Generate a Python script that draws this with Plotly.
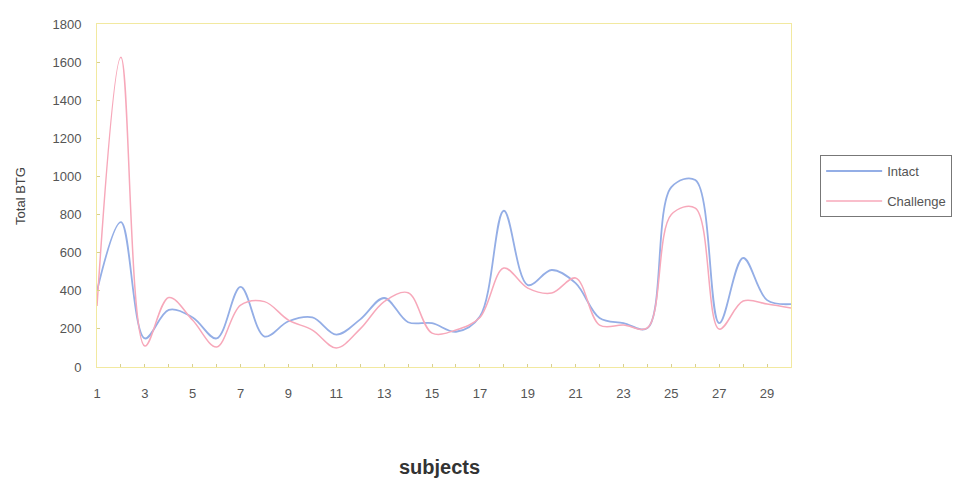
import plotly.graph_objects as go

subjects = list(range(1, 31))
intact = [400, 760, 150, 300, 260, 150, 420, 160, 240, 260,
          170, 250, 362, 235, 230, 185, 265, 820, 430, 509,
          440, 257, 230, 204, 944, 981, 230, 572, 351, 330]
challenge = [320, 1626, 110, 365, 245, 105, 325, 343, 246, 194,
             100, 200, 343, 390, 178, 194, 260, 519, 414, 388,
             467, 220, 220, 205, 800, 834, 199, 346, 331, 310]
x_tick_vals = list(range(1, 31, 2))
y_tick_vals = list(range(0, 1801, 200))

fig = go.Figure()
fig.add_trace(go.Scatter(x=subjects, y=intact, name="Intact", mode="lines", legendgroup="a",
                         line=dict(color="#94aee6", width=1.8, shape="spline", smoothing=1.0)))
fig.add_trace(go.Scatter(x=subjects, y=challenge, name="Challenge", mode="lines", legendgroup="b",
                         line=dict(color="#f7a8ba", width=1.5, shape="spline", smoothing=1.0)))

axis_color = "#f2e9a0"
fig.update_layout(
    width=980, height=482,
    margin=dict(l=97, r=189, t=24, b=115),
    paper_bgcolor="white", plot_bgcolor="white",
    font=dict(family="Liberation Sans, Arial, sans-serif", size=12, color="#555"),
    showlegend=True,
    legend=dict(x=1.042, y=0.618, xanchor="left", yanchor="top",
                bordercolor="#777", borderwidth=1, bgcolor="white",
                font=dict(size=13, color="#555"), tracegroupgap=10, itemwidth=56),
    xaxis=dict(range=[1, 30], tickvals=x_tick_vals, ticktext=[str(v) for v in x_tick_vals],
               showgrid=False, zeroline=False, showline=True, linecolor=axis_color, linewidth=1,
               mirror=True, ticks="inside", ticklen=3, tickcolor="#d8d090",
               minor=dict(dtick=1, tick0=1, ticks="inside", ticklen=3, tickcolor="#d8d090"),
               ticklabelstandoff=14, tickfont=dict(size=13, color="#555")),
    yaxis=dict(range=[0, 1800], tickvals=y_tick_vals, showgrid=False, zeroline=False,
               showline=True, linecolor=axis_color, linewidth=1, mirror=True,
               ticks="inside", ticklen=3, tickcolor="#d8d090",
               ticklabelstandoff=12, tickfont=dict(size=13, color="#555")),
    annotations=[
        dict(text="Total BTG", x=-0.124, y=0.5, xref="paper", yref="paper",
             textangle=-90, showarrow=False, font=dict(size=13, color="#444")),
        dict(text="<b>subjects</b>", x=0.494, y=-0.33, xref="paper", yref="paper",
             showarrow=False, font=dict(size=20, color="#333")),
    ],
)

fig.write_html("out.html")
